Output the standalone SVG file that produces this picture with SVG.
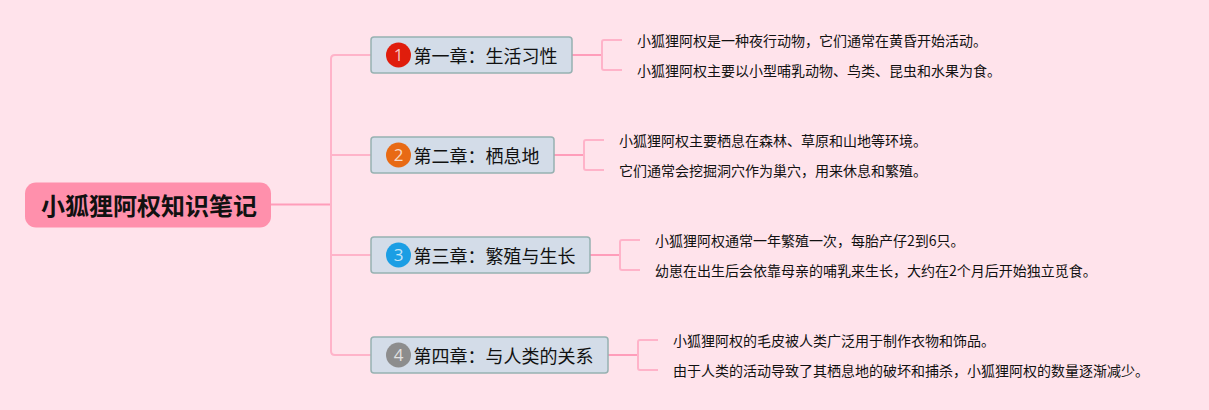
<svg xmlns="http://www.w3.org/2000/svg" width="1209" height="410" viewBox="0 0 1209 410">
<style>
text{font-family:"Noto Sans CJK SC","Noto Sans",sans-serif;fill:#111}
.root{font-size:24px;font-weight:700}
.br{font-size:18px}
.lf{font-size:14px}
.num{font-family:"Open Sans",sans-serif;font-size:17px;fill:#fff;fill-opacity:.75;text-anchor:middle}
.box{fill:#d3dce8;stroke:#97b1b1;stroke-width:1.5}
.c{fill:none;stroke:#ff9dba;stroke-width:2}
.c2{fill:none;stroke:#ffb3c9;stroke-width:2}
</style>
<rect width="1209" height="410" fill="#ffe3eb"/>
<g id="connectors">
<path class="c" d="M271 204.500H331"/>
<path class="c2" d="M371 55H335Q331 55 331 59V351Q331 355 335 355H371M331 155H371M331 255H371"/>
<path class="c" d="M572 55H602M554 155H584M590 255H620M608 355H638"/>
<path class="c2" d="M622 40H604Q602 40 602 42V68Q602 70 604 70H622"/>
<path class="c2" d="M604 140H586Q584 140 584 142V168Q584 170 586 170H604"/>
<path class="c2" d="M640 240H622Q620 240 620 242V268Q620 270 622 270H640"/>
<path class="c2" d="M658 340H640Q638 340 638 342V368Q638 370 640 370H658"/>
</g>
<g id="root"><rect x="25" y="182.500" width="246" height="45" rx="11" fill="#ff90ac"/><text class="root" x="41" y="215">小狐狸阿权知识笔记</text></g>
<g id="chapter1"><rect class="box" x="371" y="37" width="201" height="36" rx="3"/><circle cx="398.500" cy="55" r="12.500" fill="#e01d0c"/><text class="num" x="398.500" y="61">1</text><text class="br" x="413.500" y="62.500">第一章&#xFF1A;生活习性</text></g>
<g id="chapter2"><rect class="box" x="371" y="137" width="183" height="36" rx="3"/><circle cx="398.500" cy="155" r="12.500" fill="#e86a14"/><text class="num" x="398.500" y="161">2</text><text class="br" x="413.500" y="162.500">第二章&#xFF1A;栖息地</text></g>
<g id="chapter3"><rect class="box" x="371" y="237" width="219" height="36" rx="3"/><circle cx="398.500" cy="255" r="12.500" fill="#1b9ee4"/><text class="num" x="398.500" y="261">3</text><text class="br" x="413.500" y="262.500">第三章&#xFF1A;繁殖与生长</text></g>
<g id="chapter4"><rect class="box" x="371" y="337" width="237" height="36" rx="3"/><circle cx="398.500" cy="355" r="12.500" fill="#8d8d8d"/><text class="num" x="398.500" y="361">4</text><text class="br" x="413.500" y="362.500">第四章&#xFF1A;与人类的关系</text></g>
<g id="leaf1a"><text class="lf" x="637" y="46">小狐狸阿权是一种夜行动物&#xFF0C;它们通常在黄昏开始活动。</text></g>
<g id="leaf1b"><text class="lf" x="637" y="76">小狐狸阿权主要以小型哺乳动物、鸟类、昆虫和水果为食。</text></g>
<g id="leaf2a"><text class="lf" x="619" y="146">小狐狸阿权主要栖息在森林、草原和山地等环境。</text></g>
<g id="leaf2b"><text class="lf" x="619" y="176">它们通常会挖掘洞穴作为巢穴&#xFF0C;用来休息和繁殖。</text></g>
<g id="leaf3a"><text class="lf" x="655" y="246">小狐狸阿权通常一年繁殖一次&#xFF0C;每胎产仔2到6只。</text></g>
<g id="leaf3b"><text class="lf" x="655" y="276">幼崽在出生后会依靠母亲的哺乳来生长&#xFF0C;大约在2个月后开始独立觅食。</text></g>
<g id="leaf4a"><text class="lf" x="673" y="346">小狐狸阿权的毛皮被人类广泛用于制作衣物和饰品。</text></g>
<g id="leaf4b"><text class="lf" x="673" y="376">由于人类的活动导致了其栖息地的破坏和捕杀&#xFF0C;小狐狸阿权的数量逐渐减少。</text></g>
</svg>
